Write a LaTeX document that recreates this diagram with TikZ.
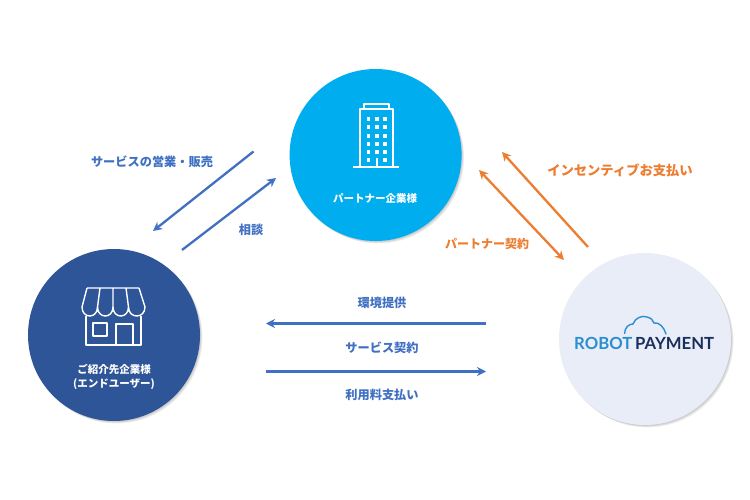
\documentclass[tikz,border=0pt]{standalone}
\usepackage{fontspec}
\setmainfont{Noto Sans CJK JP}
\newfontfamily\logofont{Lato}
\usetikzlibrary{arrows.meta}
\definecolor{partnerc}{HTML}{00AEEF}
\definecolor{shopc}{HTML}{2E5597}
\definecolor{rpc}{HTML}{E9EDF7}
\definecolor{bluec}{HTML}{4070C2}
\definecolor{orangec}{HTML}{ED7D31}
\definecolor{logoa}{HTML}{2A8FD0}
\definecolor{logob}{HTML}{1A2F5E}
\tikzset{
  x=1pt,y=-1pt,
  disc/.style={circle,minimum size=172pt,inner sep=0pt,draw=none},
  blueline/.style={draw=bluec,line width=2.3pt,-{Stealth[length=9pt,width=9pt]}},
  orangeline/.style={draw=orangec,line width=2.3pt,-{Stealth[length=9pt,width=9pt]}},
  orangeboth/.style={draw=orangec,line width=2.3pt,{Stealth[length=9pt,width=9pt]}-{Stealth[length=9pt,width=9pt]}},
  bluelabel/.style={text=bluec,font=\bfseries\fontsize{12.2}{14}\selectfont,inner sep=0pt},
  orangelabel/.style={text=orangec,font=\bfseries\fontsize{12}{14}\selectfont,inner sep=0pt},
  orangewide/.style={text=orangec,font=\bfseries\fontsize{13.3}{15}\selectfont,inner sep=0pt},
  whitelabel/.style={text=white,align=center,font=\bfseries\fontsize{10.5}{14}\selectfont,inner sep=0pt},
  icon/.style={draw=white,line width=1.4pt,line join=round},
  shadowdisc/.style={fill=black,fill opacity=0.07,circle,minimum size=172pt,inner sep=0pt}
}
\begin{document}
\begin{tikzpicture}
\useasboundingbox (0,0) rectangle (750,500);
\fill[white] (0,0) rectangle (750,500);
% soft shadows
\foreach \cx/\cy in {375.6/155,114/335,645/339}{
  \foreach \d in {0.8,1.6,2.4}{
    \node[shadowdisc] at (\cx+\d,\cy+\d) {};
  }
}
\node[disc,fill=partnerc] (partner) at (375.6,155) {};
\node[disc,fill=shopc] (shop) at (114,335) {};
\node[disc,fill=rpc] (rp) at (645,339) {};
% building icon
\draw[icon] (364,109) -- (364,104) -- (389,104) -- (389,109);
\draw[icon] (360,167) -- (360,109) -- (393,109) -- (393,167);
\draw[icon] (353,167) -- (399,167);
\draw[icon] (376.8,167) -- (376.8,158);
\foreach \wy in {119,127.3,135.6,144,152.3}{
  \foreach \wx in {368.5,376.8,385}{
    \fill[white] (\wx-1.7,\wy-2) rectangle (\wx+1.7,\wy+2);
  }
}
\foreach \wx in {368.5,385}{\fill[white] (\wx-1.7,158.5) rectangle (\wx+1.7,162.5);}
% shop icon
\draw[icon] (87,288) -- (139,288)
  (87,288) -- (82,307) (100,288) -- (97.5,307) (113,288) -- (113,307) (126,288) -- (128.5,307) (139,288) -- (145,307)
  (82,307) .. controls (82,319) and (97.5,319) .. (97.5,307)
  .. controls (97.5,319) and (113,319) .. (113,307)
  .. controls (113,319) and (128.5,319) .. (128.5,307)
  .. controls (128.5,319) and (145,319) .. (145,307);
\draw[icon] (86,316) -- (86,345) -- (141,345) -- (141,316);
\draw[icon] (93,323) rectangle (107,336);
\draw[icon] (116,345) -- (116,324) -- (133,324) -- (133,345);
% logo
\draw[logoa,line width=1.4pt,line cap=round] (624.5,333.5) .. controls (625,327) and (629,324) .. (633,324)
  .. controls (635,318) and (642,315) .. (647,317) .. controls (651,318) and (653,320) .. (654,323)
  .. controls (659,322) and (664,327) .. (666,334);
\node[anchor=base west,inner sep=0pt,text=logoa,font=\logofont\bfseries\fontsize{16.7}{17}\selectfont] (logoleft) at (574,349.5) {ROBOT};
\node[anchor=base west,inner sep=0pt,text=logob,font=\logofont\bfseries\fontsize{16.7}{17}\selectfont] (logoright) at (635,349.5) {PAYMENT};
% circle labels
\node[whitelabel] (partnertext) at (375,198) {パートナー企業様};
\node[whitelabel] (shoptext) at (114,377) {ご紹介先企業様\\(エンドユーザー)};
% edge labels
\node[bluelabel] (l1) at (152,162) {サービスの営業・販売};
\node[bluelabel] (l2) at (251,230) {相談};
\node[orangewide] (l3) at (620,170) {インセンティブお支払い};
\node[orangelabel] (l4) at (487,244) {パートナー契約};
\node[bluelabel] (l5) at (382,303) {環境提供};
\node[bluelabel] (l6) at (382,348) {サービス契約};
\node[bluelabel] (l7) at (382,395) {利用料支払い};
% connector ends
\coordinate (a1) at (253.5,151.5); \coordinate (a2) at (153,231);
\coordinate (b1) at (182,250); \coordinate (b2) at (276,178);
\coordinate (c1) at (588,247); \coordinate (c2) at (502,152);
\coordinate (d1) at (479,170); \coordinate (d2) at (564,260);
\coordinate (e1) at (486,323.5); \coordinate (e2) at (266,323.5);
\coordinate (f1) at (266,371.5); \coordinate (f2) at (486,371.5);
\draw[blueline] (a1) -- (a2);
\draw[blueline] (b1) -- (b2);
\draw[orangeline] (c1) -- (c2);
\draw[orangeboth] (d1) -- (d2);
\draw[blueline] (e1) -- (e2);
\draw[blueline] (f1) -- (f2);
\end{tikzpicture}
\end{document}
